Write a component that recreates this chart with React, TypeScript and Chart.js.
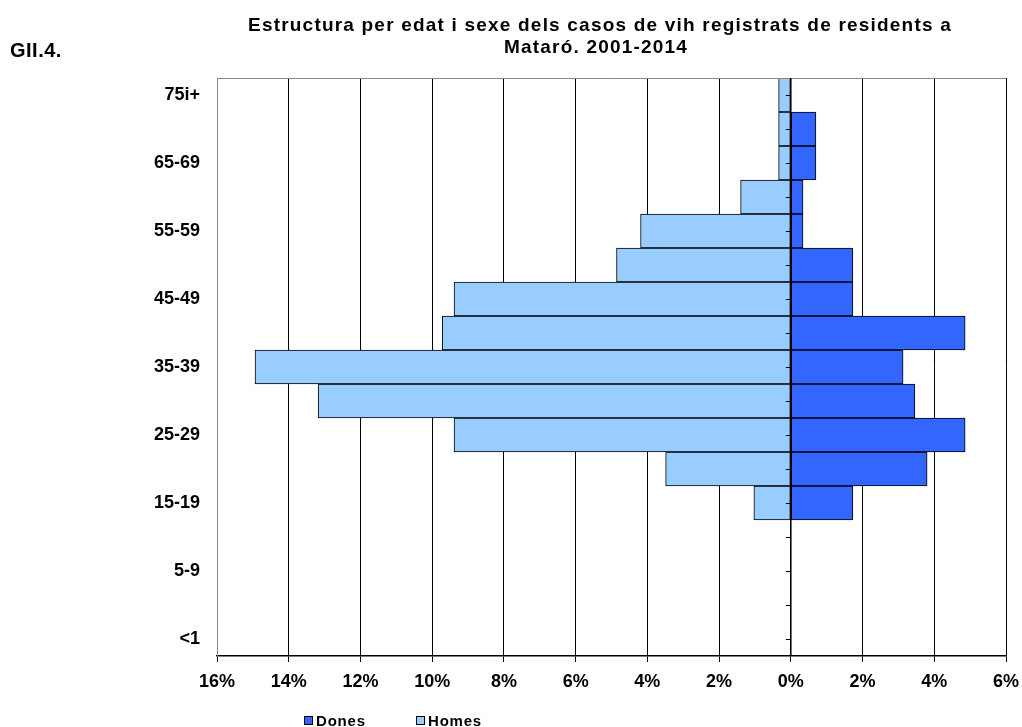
import React, { useEffect, useRef } from "react";
import { Chart, registerables } from "chart.js";

Chart.register(...registerables);

const ages = ["75i+", "70-74", "65-69", "60-64", "55-59", "50-54", "45-49", "40-44", "35-39", "30-34", "25-29", "20-24", "15-19", "10-14", "5-9", "1-4", "<1"];
const homes = [0.34, 0.34, 0.34, 1.4, 4.19, 4.86, 9.39, 9.72, 14.94, 13.18, 9.39, 3.49, 1.03, null, null, null, null];
const dones = [null, 0.7, 0.7, 0.34, 0.34, 1.73, 1.73, 4.86, 3.13, 3.46, 4.86, 3.8, 1.73, null, null, null, null];
const titleLines = ["Estructura per edat i sexe dels casos de vih registrats de residents a", "Mataró. 2001-2014"];
const figLabel = "GII.4.";
const FONT = "'Liberation Sans', Arial, sans-serif";
const DONES_COLOR = "#3366FF";
const HOMES_COLOR = "#99CCFF";

const decorPlugin = {
  id: "decor",
  afterDatasetsDraw(chart: any) {
    const { ctx, chartArea, scales } = chart;
    const x0 = scales.x.getPixelForValue(0);
    ctx.save();
    ctx.strokeStyle = "#888888";
    ctx.lineWidth = 1;
    ctx.beginPath();
    ctx.moveTo(chartArea.left, chartArea.top + 0.5);
    ctx.lineTo(chartArea.right, chartArea.top + 0.5);
    ctx.stroke();
    ctx.strokeStyle = "#000000";
    ctx.lineWidth = 1.5;
    ctx.beginPath();
    ctx.moveTo(x0, chartArea.top);
    ctx.lineTo(x0, chartArea.bottom);
    ctx.stroke();
    ctx.lineWidth = 1;
    ages.forEach((_, i) => {
      const y = Math.round(scales.y.getPixelForValue(i)) + 0.5;
      ctx.beginPath();
      ctx.moveTo(x0 - 5, y);
      ctx.lineTo(x0, y);
      ctx.stroke();
    });
    ctx.restore();
  },
  afterDraw(chart: any) {
    const { ctx } = chart;
    ctx.save();
    ctx.fillStyle = "#000000";
    ctx.textBaseline = "alphabetic";
    ctx.font = `bold 19px ${FONT}`;
    ctx.textAlign = "center";
    (ctx as any).letterSpacing = "1.2px";
    ctx.fillText(titleLines[0], 600, 31);
    ctx.fillText(titleLines[1], 596, 53);
    ctx.textAlign = "left";
    (ctx as any).letterSpacing = "0.5px";
    ctx.font = `bold 20px ${FONT}`;
    ctx.fillText(figLabel, 10, 57);
    const items = [
      { label: "Dones", color: DONES_COLOR, x: 304 },
      { label: "Homes", color: HOMES_COLOR, x: 416 },
    ];
    ctx.font = `bold 15px ${FONT}`;
    (ctx as any).letterSpacing = "0.8px";
    items.forEach((it) => {
      ctx.fillStyle = it.color;
      ctx.fillRect(it.x, 716, 8, 8);
      ctx.strokeStyle = "#000000";
      ctx.lineWidth = 1;
      ctx.strokeRect(it.x + 0.5, 716.5, 8, 8);
      ctx.fillStyle = "#000000";
      ctx.fillText(it.label, it.x + 12, 726);
    });
    ctx.restore();
  },
};

export default function App() {
  const ref = useRef<HTMLCanvasElement>(null);
  useEffect(() => {
    if (!ref.current) return;
    const chart = new Chart(ref.current, {
      type: "bar",
      data: {
        labels: ages,
        datasets: [
          {
            label: "Dones",
            data: dones,
            backgroundColor: DONES_COLOR,
            borderColor: "#000000",
            borderWidth: 1,
            borderSkipped: false,
            barPercentage: 1,
            categoryPercentage: 1,
          },
          {
            label: "Homes",
            data: homes.map((v) => (v == null ? null : -v)),
            backgroundColor: HOMES_COLOR,
            borderColor: "#000000",
            borderWidth: 1,
            borderSkipped: false,
            barPercentage: 1,
            categoryPercentage: 1,
          },
        ],
      },
      options: {
        indexAxis: "y",
        responsive: false,
        animation: false,
        devicePixelRatio: 1,
        layout: { padding: { top: 78, right: 16, bottom: 31, left: 0 } },
        plugins: {
          legend: { display: false },
          title: { display: false },
          tooltip: { enabled: false },
        },
        scales: {
          x: {
            stacked: true,
            min: -16,
            max: 6,
            ticks: {
              stepSize: 2,
              color: "#000000",
              padding: 9,
              font: { family: FONT, size: 18, weight: "bold" },
              callback: (v: any) => Math.abs(Number(v)) + "%",
            },
            grid: {
              color: (c: any) => (c.tick && c.tick.value === -16 ? "#888888" : "#000000"),
              lineWidth: 1,
              tickLength: 6,
              tickColor: "#000000",
            },
            border: { display: true, color: "#000000", width: 1.5 },
            afterFit: (s: any) => {
              s.height = 40;
              s.paddingLeft = 0;
              s.paddingRight = 0;
            },
          },
          y: {
            stacked: true,
            ticks: {
              autoSkip: false,
              color: "#000000",
              padding: 17,
              font: { family: FONT, size: 18, weight: "bold" },
              callback: (_v: any, i: number) => (i % 2 === 0 ? ages[i] : ""),
            },
            grid: { display: false, drawTicks: false },
            border: { display: true, color: "#888888", width: 1 },
            afterFit: (s: any) => {
              s.width = 217;
            },
          },
        },
      } as any,
      plugins: [decorPlugin],
    });
    return () => chart.destroy();
  }, []);
  return (
    <div style={{ position: "absolute", left: 0, top: 0, width: 1022, height: 727, background: "#ffffff" }}>
      <canvas ref={ref} width={1022} height={727} />
    </div>
  );
}
